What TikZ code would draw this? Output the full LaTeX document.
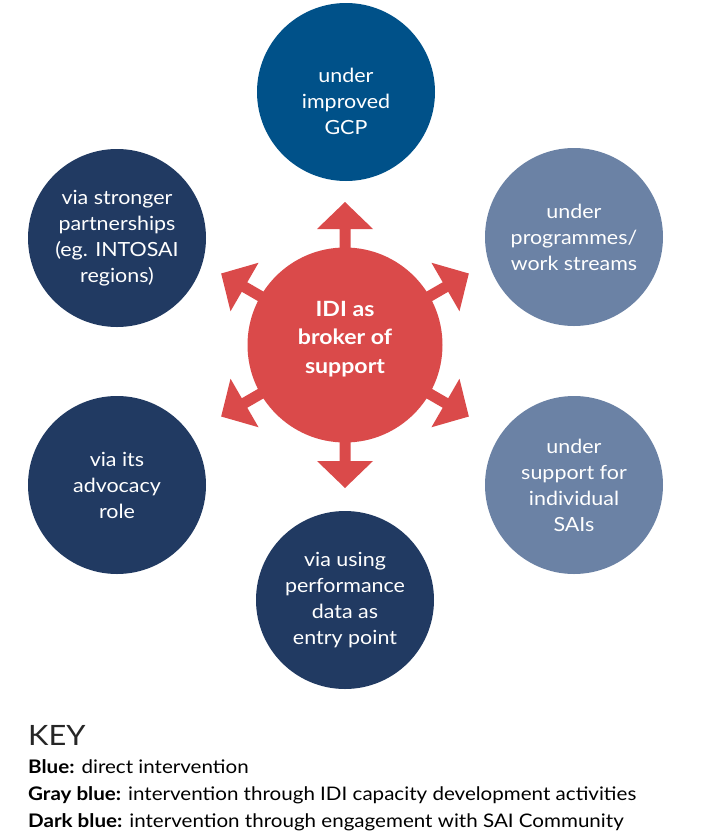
\documentclass[tikz,border=0pt]{standalone}
\usepackage{fontspec}
\setmainfont{Lato}[FakeStretch=1.1]
\usepackage{tikz}
\definecolor{idired}{HTML}{DA4A4A}
\definecolor{idiblue}{HTML}{005189}
\definecolor{idigray}{HTML}{6B82A5}
\definecolor{ididark}{HTML}{213A62}

\begin{document}
\begin{tikzpicture}[x=1pt, y=-1pt,
  bubble/.style={circle, minimum size=178pt, inner sep=0pt, align=center,
    text=white, font=\fontsize{19.5}{26}\selectfont},
  bubbletext/.style={inner sep=0pt, align=center, text=white, font=\fontsize{19.5}{26}\selectfont},
  hubstyle/.style={circle, fill=idired, minimum size=195pt, inner sep=0pt},
  hubtext/.style={inner sep=0pt, align=center, text=white, font=\fontsize{21}{28.5}\selectfont\bfseries},
  keyline/.style={anchor=base west, inner sep=0pt, font=\fontsize{18.7}{20}\selectfont}]

  \useasboundingbox (0,0) rectangle (709,839);

  % ── Arrows out of the hub ────────────────────────────────────
  \foreach \ang in {30,90,150,210,270,330}{
    \fill[idired, shift={(345,345)}, rotate=\ang]
      (80,-5.5) -- (116,-5.5) -- (116,-28) -- (143,0) -- (116,28) -- (116,5.5) -- (80,5.5) -- cycle;
  }

  % ── Hub ──────────────────────────────────────────────────────
  \node[hubstyle, label={[hubtext, yshift=6pt]center:IDI as\\broker of\\support}] (hub) at (345,345) {};

  % ── Outer circles ────────────────────────────────────────────
  \node[bubble, fill=idiblue, label={[bubbletext, yshift=-9pt]center:under\\improved\\GCP}] (gcp) at (346,92) {};
  \node[bubble, fill=idigray] (streams) at (574,237) {under\\programmes/\\work streams};
  \node[bubble, fill=idigray] (sais) at (574,485) {under\\support for\\individual\\SAIs};
  \node[bubble, fill=ididark] (perf) at (345,600) {via using\\performance\\data as\\entry point};
  \node[bubble, fill=ididark] (advocacy) at (117,485) {via its\\advocacy\\role};
  \node[bubble, fill=ididark] (partners) at (117,238) {via stronger\\partnerships\\(eg. INTOSAI\\regions)};

  % ── Key ──────────────────────────────────────────────────────
  \node[keyline, font=\fontsize{28}{30}\selectfont, text=black!85] (key) at (28,745) {KEY};
  \node[keyline] (kblue) at (28,773) {\textbf{Blue:} direct intervention};
  \node[keyline] (kgray) at (28,800) {\textbf{Gray blue:} intervention through IDI capacity development activities};
  \node[keyline] (kdark) at (28,827) {\textbf{Dark blue:} intervention through engagement with SAI Community};

\end{tikzpicture}
\end{document}
